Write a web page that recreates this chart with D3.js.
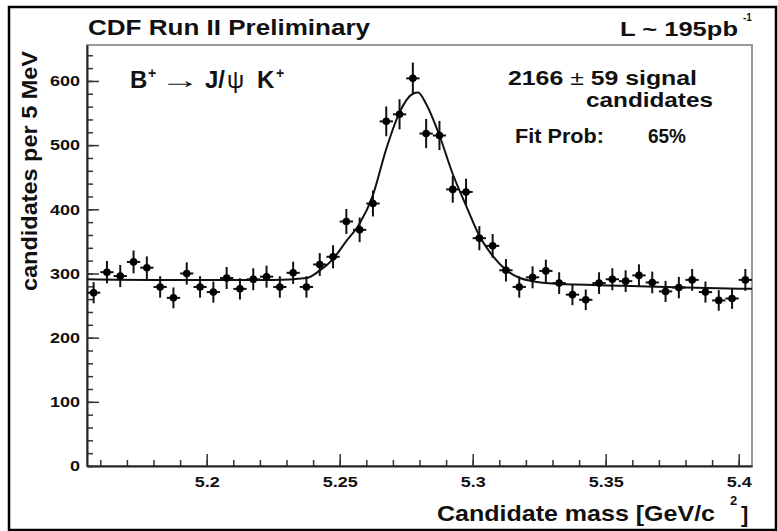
<!DOCTYPE html>
<html>
<head>
<meta charset="utf-8">
<script src="https://cdn.jsdelivr.net/npm/d3@7"></script>
<style>
  html, body { margin: 0; padding: 0; background: #fff; }
  svg { display: block; }
  text { font-family: "Liberation Sans", Arial, Helvetica, sans-serif; font-weight: bold; fill: #111; }
</style>
</head>
<body>
<svg id="chart" width="778" height="531"></svg>
<script>
"use strict";

// histogram of B+ candidate mass, 5 MeV bins starting at 5.155 GeV/c^2
var binStart = 5.155;
var binWidth = 0.005;
var counts = [270, 302, 296, 318, 309, 279, 262, 300, 279, 271,
              293, 276, 291, 295, 279, 301, 279, 314, 326, 381,
              368, 409, 537, 548, 604, 518, 515, 431, 427, 355,
              343, 305, 279, 294, 304, 285, 267, 259, 285, 291,
              288, 297, 286, 272, 278, 290, 271, 258, 261, 290];

// fit curve (signal + background)
var fitMass  = [5.155, 5.180, 5.205, 5.225, 5.2376, 5.2423, 5.2474, 5.2524, 5.2574,
                5.2624, 5.2675, 5.2725, 5.2775, 5.2795, 5.2825, 5.2875, 5.2925, 5.2976,
                5.3026, 5.3076, 5.3124, 5.3177, 5.3225, 5.3315, 5.3564, 5.380, 5.405];
var fitValue = [291, 290, 290, 290, 293, 304, 322, 350, 377,
                421, 494, 551, 580, 582, 564, 515, 455, 405,
                358, 327, 306, 293, 288, 284, 281, 278, 276];

var xMajorTicks = [5.2, 5.25, 5.3, 5.35, 5.4];
var xTickLabels = ["5.2", "5.25", "5.3", "5.35", "5.4"];
var yMajorTicks = [0, 100, 200, 300, 400, 500, 600];
var yTickLabels = ["0", "100", "200", "300", "400", "500", "600"];


/**
    Stretch text horizontally, the original picture was scaled wider than
    it is tall so every label is a bit wider than the plain font.
*/
function stretchText(sel, factor) {
    sel.each(function() {
        var w = this.getComputedTextLength();
        d3.select(this)
            .attr("textLength", w * factor)
            .attr("lengthAdjust", "spacingAndGlyphs");
    });
}

function addLabel(svg, str, px, py, size, width, weight) {
    var t = svg.append("text")
        .attr("x", px)
        .attr("y", py)
        .attr("font-size", size)
        .text(str);
    if (weight)
        t.style("font-weight", weight);
    if (width)
        t.attr("textLength", width).attr("lengthAdjust", "spacingAndGlyphs");
    return t;
}


var svg = d3.select("#chart");
var frameLeft = 87, frameRight = 752, frameTop = 45, frameBottom = 466;

var x = d3.scaleLinear().domain([5.155, 5.405]).range([frameLeft, frameRight]);
var y = d3.scaleLinear().domain([0, 656]).range([frameBottom, frameTop]);

// outer border of the canvas
svg.append("rect")
    .attr("x", 9).attr("y", 7)
    .attr("width", 767).attr("height", 523)
    .attr("fill", "none")
    .attr("stroke", "#000")
    .attr("stroke-width", 2.5);

// plot frame
svg.append("rect")
    .attr("x", frameLeft).attr("y", frameTop)
    .attr("width", frameRight - frameLeft).attr("height", frameBottom - frameTop)
    .attr("fill", "#fff")
    .attr("stroke", "#999")
    .attr("stroke-width", 2);

// minor ticks
var xMinor = d3.range(5.16, 5.405, 0.01);
var yMinor = d3.range(0, 656, 20);

var gxMinor = svg.append("g")
    .attr("transform", "translate(0," + frameBottom + ")")
    .call(d3.axisBottom(x).tickValues(xMinor).tickSize(-6).tickSizeOuter(0).tickFormat(""));
gxMinor.select(".domain").remove();

var gyMinor = svg.append("g")
    .attr("transform", "translate(" + frameLeft + ",0)")
    .call(d3.axisLeft(y).tickValues(yMinor).tickSize(-6).tickSizeOuter(0).tickFormat(""));
gyMinor.select(".domain").remove();

// major ticks + labels
var gx = svg.append("g")
    .attr("transform", "translate(0," + frameBottom + ")")
    .call(d3.axisBottom(x)
        .tickValues(xMajorTicks)
        .tickSize(-12)
        .tickSizeOuter(0)
        .tickPadding(10)
        .tickFormat(function(d, i) { return xTickLabels[i]; }));

var gy = svg.append("g")
    .attr("transform", "translate(" + frameLeft + ",0)")
    .call(d3.axisLeft(y)
        .tickValues(yMajorTicks)
        .tickSize(-12)
        .tickSizeOuter(0)
        .tickPadding(7)
        .tickFormat(function(d, i) { return yTickLabels[i]; }));

[gx, gy, gxMinor, gyMinor].forEach(function(g) {
    g.attr("font-family", null).attr("font-size", null);
    g.selectAll(".tick line").attr("stroke", "#333").attr("stroke-width", 1.5);
    g.selectAll(".domain").attr("stroke", "#222").attr("stroke-width", 2);
});

gx.selectAll("text").attr("font-size", 15).attr("fill", "#111");
gy.selectAll("text").attr("font-size", 15).attr("fill", "#111");
stretchText(gx.selectAll("text"), 1.2);
stretchText(gy.selectAll("text"), 1.2);

// fit curve
svg.append("clipPath").attr("id", "plotclip")
    .append("rect")
    .attr("x", frameLeft).attr("y", frameTop)
    .attr("width", frameRight - frameLeft).attr("height", frameBottom - frameTop);

var fitLine = d3.line()
    .x(function(d) { return x(d[0]); })
    .y(function(d) { return y(d[1]); })
    .curve(d3.curveMonotoneX);

svg.append("path")
    .datum(d3.zip(fitMass, fitValue))
    .attr("clip-path", "url(#plotclip)")
    .attr("fill", "none")
    .attr("stroke", "#111")
    .attr("stroke-width", 2)
    .attr("d", fitLine);

// data points with poisson error bars
var pts = svg.append("g").selectAll("g")
    .data(counts)
    .join("g");

pts.append("line")
    .attr("x1", function(d, i) { return x(binStart + binWidth * (i + 0.5)); })
    .attr("x2", function(d, i) { return x(binStart + binWidth * (i + 0.5)); })
    .attr("y1", function(d) { return y(d - Math.sqrt(d)); })
    .attr("y2", function(d) { return y(d + Math.sqrt(d)); })
    .attr("stroke", "#111")
    .attr("stroke-width", 2);

pts.append("line")
    .attr("x1", function(d, i) { return x(binStart + binWidth * i); })
    .attr("x2", function(d, i) { return x(binStart + binWidth * (i + 1)); })
    .attr("y1", function(d) { return y(d); })
    .attr("y2", function(d) { return y(d); })
    .attr("stroke", "#111")
    .attr("stroke-width", 2);

pts.append("circle")
    .attr("cx", function(d, i) { return x(binStart + binWidth * (i + 0.5)); })
    .attr("cy", function(d) { return y(d); })
    .attr("r", 3.8)
    .attr("fill", "#000");

// titles and annotations
addLabel(svg, "CDF Run II Preliminary", 88, 35, 22, 282);
addLabel(svg, "L ~ 195pb", 620, 36, 20, 118);
addLabel(svg, "-1", 743, 21, 10);

addLabel(svg, "B", 130, 88, 24);
addLabel(svg, "+", 148, 78, 14);
addLabel(svg, "\u2192", 160, 88, 24, 40, "normal");
addLabel(svg, "J/", 205, 88, 24);
addLabel(svg, "\u03c8", 227, 88, 24, null, "normal");
addLabel(svg, "K", 257, 88, 24);
addLabel(svg, "+", 276, 78, 14);

var sig = svg.append("text")
    .attr("x", 508).attr("y", 85)
    .attr("font-size", 20)
    .attr("textLength", 189)
    .attr("lengthAdjust", "spacingAndGlyphs");
sig.append("tspan").text("2166 ");
sig.append("tspan").style("font-weight", "normal").text("\u00b1");
sig.append("tspan").text(" 59 signal");

addLabel(svg, "candidates", 586, 107, 20, 127);
addLabel(svg, "Fit Prob:", 515, 143, 20, 89);
addLabel(svg, "65%", 648, 143, 20, 38);

// axis titles
addLabel(svg, "Candidate mass [GeV/c", 437, 521, 22, 278);
addLabel(svg, "2", 730, 505, 13);
addLabel(svg, "]", 741, 522, 22);

svg.append("text")
    .attr("transform", "translate(37,291) rotate(-90)")
    .attr("font-size", 22)
    .attr("textLength", 240)
    .attr("lengthAdjust", "spacingAndGlyphs")
    .text("candidates per 5 MeV");
</script>
</body>
</html>
